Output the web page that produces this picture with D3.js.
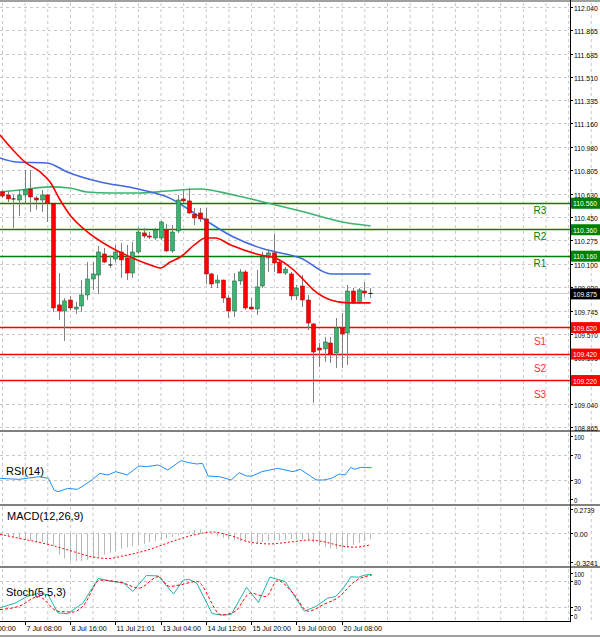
<!DOCTYPE html>
<html>
<head>
<meta charset="utf-8">
<script src="https://cdn.jsdelivr.net/npm/d3@7"></script>
<style>
  body { margin: 0; background: #fff; }
  text { font-family: "Liberation Sans", Arial, sans-serif; }
</style>
</head>
<body>
<svg id="chart" width="600" height="638"></svg>
<script>
// 4h candles, 66 bars
var opens  = [110.642,110.619,110.589,110.581,110.619,110.664,110.596,110.581,110.619,110.551,109.788,109.742,109.825,109.757,109.780,109.863,109.984,110.014,110.173,110.090,110.135,110.188,110.143,110.029,110.188,110.332,110.309,110.294,110.294,110.354,110.196,110.347,110.589,110.574,110.475,110.483,110.438,110.022,109.954,109.976,109.840,109.742,109.969,110.037,109.772,109.757,109.931,110.143,110.181,110.112,110.029,110.022,109.856,109.931,109.825,109.644,109.462,109.455,109.500,109.425,109.614,109.576,109.893,109.803,109.893,109.871];
var highs  = [110.657,110.649,110.619,110.657,110.808,110.808,110.611,110.657,110.627,110.551,110.029,109.840,109.856,109.810,109.976,110.112,110.112,110.233,110.218,110.165,110.241,110.256,110.241,110.264,110.377,110.370,110.339,110.370,110.423,110.400,110.392,110.619,110.657,110.672,110.521,110.521,110.521,110.029,110.014,109.979,109.863,110.029,110.059,110.052,109.840,110.052,110.188,110.211,110.324,110.135,110.075,110.037,109.939,110.014,109.863,109.651,109.500,109.546,109.546,109.689,109.727,109.939,109.916,109.916,109.961,109.916];
var lows   = [110.596,110.566,110.370,110.460,110.559,110.491,110.506,110.491,110.415,109.735,109.674,109.515,109.750,109.719,109.735,109.825,109.901,109.871,110.105,110.067,110.112,109.992,109.976,109.992,110.173,110.294,110.286,110.279,110.279,110.188,110.181,110.332,110.559,110.475,110.392,110.415,109.946,109.916,109.916,109.803,109.689,109.697,109.939,109.750,109.750,109.712,109.916,110.037,110.037,110.029,110.014,109.825,109.825,109.772,109.598,109.047,109.319,109.357,109.349,109.311,109.311,109.334,109.795,109.795,109.848,109.840];
var closes = [110.611,110.589,110.585,110.619,110.657,110.604,110.581,110.619,110.559,109.765,109.742,109.818,109.765,109.772,109.863,109.984,110.022,110.188,110.112,110.085,110.188,110.128,110.029,110.188,110.339,110.309,110.301,110.354,110.415,110.196,110.339,110.581,110.574,110.483,110.445,110.438,110.022,109.946,109.976,109.840,109.742,109.969,110.037,109.765,109.757,109.924,110.150,110.181,110.105,110.029,110.059,109.856,109.916,109.825,109.651,109.432,109.447,109.508,109.417,109.614,109.568,109.893,109.803,109.901,109.878,109.875];

// moving averages: [bar index, price]
var maRed   = [[-0.35,111.073],[1.95,110.959],[4.07,110.868],[6.73,110.793],[8.5,110.717],[10.27,110.581],[12,110.468],[14.7,110.354],[19.1,110.226],[22.65,110.150],[26.2,110.090],[27.96,110.067],[29.7,110.112],[31.5,110.150],[34.2,110.249],[35.9,110.294],[37.7,110.294],[40.4,110.241],[45.7,110.165],[48.3,110.143],[51.5,110.052],[53.3,109.976],[55,109.901],[58.05,109.825],[61.1,109.803],[65.1,109.803]];
var maBlue  = [[-0.35,110.899],[2.65,110.868],[7.96,110.861],[11.5,110.793],[17.35,110.717],[23.2,110.672],[26.2,110.642],[29.2,110.604],[35,110.453],[40.9,110.301],[46.9,110.203],[49.2,110.181],[52.7,110.143],[58.05,110.022],[65.1,110.022]];
var maGreen = [[-0.35,110.642],[3.2,110.657],[8.5,110.680],[12,110.672],[15,110.642],[19.1,110.634],[24.4,110.634],[29.2,110.649],[35,110.664],[40.9,110.619],[46.9,110.559],[52.7,110.498],[61.1,110.407],[65.1,110.385]];

// pivot levels
var levelNames  = ["R3","R2","R1","S1","S2","S3"];
var levelValues = [110.560,110.360,110.160,109.620,109.420,109.220];
var lastPrice = 109.875;

var priceTicks = [112.040,111.865,111.685,111.510,111.335,111.160,110.980,110.805,110.630,110.450,110.275,110.100,109.920,109.745,109.570,109.395,109.040,108.865];

var rsi = [[-0.35,32.8],[3,31.2],[6.5,35.4],[8.2,32.8],[9.2,14.3],[9.9,11.6],[11.6,16.9],[13.3,15.3],[14.6,22.2],[16,31.2],[17.3,40.7],[18.7,38.1],[20.1,43.4],[22.1,38.1],[24.2,52.4],[25.5,51.3],[27.6,54],[29.3,46],[31.6,60.8],[33,57.7],[34.4,55.6],[35.4,56.6],[36.4,36.5],[38.4,35.4],[40.5,30.2],[41.9,41.8],[43.2,36.5],[44.2,36.5],[45.9,43.4],[48.7,48.7],[51.4,43.4],[52.7,47.1],[55.5,30.2],[56.8,30.2],[58.2,32.8],[59.6,39.7],[60.6,38.1],[61.6,50.2],[62.3,47.1],[63.3,50.2],[65.3,49.7]];

var macdHist = [-0.030,-0.036,-0.051,-0.066,-0.073,-0.084,-0.095,-0.102,-0.117,-0.139,-0.241,-0.285,-0.307,-0.314,-0.314,-0.299,-0.285,-0.266,-0.241,-0.219,-0.197,-0.175,-0.161,-0.146,-0.131,-0.120,-0.102,-0.088,-0.073,-0.058,-0.041,-0.022,0.002,0.022,0.036,0.044,0.014,-0.014,-0.036,-0.051,-0.066,-0.080,-0.088,-0.095,-0.102,-0.110,-0.102,-0.088,-0.080,-0.080,-0.077,-0.066,-0.066,-0.069,-0.080,-0.102,-0.131,-0.153,-0.168,-0.175,-0.175,-0.161,-0.131,-0.110,-0.088,-0.066];
var macdSignal = [[-0.35,-0.011],[3.7,-0.066],[7.8,-0.120],[11.9,-0.193],[16,-0.266],[18.7,-0.285],[21.4,-0.255],[25.5,-0.193],[29.6,-0.102],[33.7,-0.022],[37.1,0.014],[40.5,-0.029],[43.9,-0.102],[47.3,-0.120],[51.4,-0.095],[54.1,-0.077],[56.8,-0.095],[59.6,-0.139],[62.3,-0.157],[65,-0.131]];

var stochMain = [[-0.35,17],[2.37,28.6],[4.4,44],[6.45,52],[8.15,48],[9.86,5],[11.6,3],[14.3,28.6],[17,87],[19.4,80],[21.4,77],[23.1,56],[25.5,94],[27.6,93],[30.3,50],[32,83],[33,85],[34.4,76],[37.1,3.5],[38.8,0],[40.5,1],[43.2,66],[45.3,30],[47.3,90],[50,80],[53.4,9],[55.5,21],[57.5,40],[58.9,44],[60.2,62],[61.6,91],[63,90],[64,95],[65.3,97]];
var stochSignal = [[-0.35,13],[3.05,21],[6.45,44],[9.86,9],[12.6,7],[14.3,21],[17.3,83],[21.4,76],[24.2,64],[27.6,91],[29.6,68],[31.6,72],[34.4,80],[38.8,0],[41.2,9],[43.9,52],[46.6,44],[48.7,82],[51.4,52],[54.1,9],[56.8,25],[59.6,44],[62.3,80],[65.3,95]];

var timeLabels = ["6 Jul 00:00","7 Jul 08:00","8 Jul 16:00","11 Jul 21:01","13 Jul 04:00","14 Jul 12:00","15 Jul 20:00","19 Jul 00:00","20 Jul 08:00"];
var timeIdx    = [-4,4,12,20,28,36,44,52,60];

var svg = d3.select("#chart");
var W = 570;   // right edge of plot area
var x = d3.scaleLinear().domain([0, 65]).range([2, 370]);
var y = d3.scaleLinear().domain([108.865, 112.040]).range([427, 7]);
var yRsi = d3.scaleLinear().domain([0, 100]).range([499, 436]);
var yMacd = d3.scaleLinear().domain([-0.3241, 0.2739]).range([562, 509]);
var yStoch = d3.scaleLinear().domain([0, 100]).range([615, 573]);

var gridColor = "#c8c8c8";
var panels = [[3, 430], [433, 503], [507, 565], [569, 620]];

// small narrow text, squeezed to a fixed width like the terminal font
function smallText(xx, yy, s, w, fill) {
    return svg.append("text").attr("x", xx).attr("y", yy).attr("font-size", 8)
        .attr("textLength", w).attr("lengthAdjust", "spacingAndGlyphs")
        .attr("fill", fill || "#000").text(s);
}

// vertical grid in every panel
var vIdx = d3.range(0, 140, 4);
panels.forEach(function (p) {
    svg.selectAll(null).data(vIdx).enter().append("line")
        .attr("x1", function (d) { return x(d) + 0.5; })
        .attr("x2", function (d) { return x(d) + 0.5; })
        .attr("y1", p[0]).attr("y2", p[1])
        .attr("stroke", gridColor).attr("stroke-dasharray", "3,3");
});

// horizontal price grid
svg.selectAll(null).data(priceTicks).enter().append("line")
    .attr("x1", 0).attr("x2", W)
    .attr("y1", function (d) { return Math.round(y(d)) + 0.5; })
    .attr("y2", function (d) { return Math.round(y(d)) + 0.5; })
    .attr("stroke", gridColor).attr("stroke-dasharray", "3,3");

// last price line
svg.append("line").attr("x1", 0).attr("x2", W)
    .attr("y1", Math.round(y(lastPrice)) + 0.5).attr("y2", Math.round(y(lastPrice)) + 0.5)
    .attr("stroke", "#d0d0d0");

// sub-panel level grids
function hgrid(scale, vals) {
    svg.selectAll(null).data(vals).enter().append("line")
        .attr("x1", 0).attr("x2", W)
        .attr("y1", function (d) { return Math.round(scale(d)) + 0.5; })
        .attr("y2", function (d) { return Math.round(scale(d)) + 0.5; })
        .attr("stroke", gridColor).attr("stroke-dasharray", "3,3");
}
hgrid(yRsi, [70, 30]);
hgrid(yMacd, [0]);
hgrid(yStoch, [80, 20]);

// pivot level lines
levelValues.forEach(function (v, i) {
    var c = i < 3 ? "#008000" : "#ff0000";
    svg.append("line").attr("x1", 0).attr("x2", W)
        .attr("y1", Math.round(y(v)) + 0.5).attr("y2", Math.round(y(v)) + 0.5)
        .attr("stroke", c).attr("stroke-width", 1.6);
    svg.append("text").attr("x", 540)
        .attr("y", y(v) + (i < 3 ? 11 : 18))
        .attr("text-anchor", "middle").attr("font-size", 10)
        .attr("fill", i < 3 ? "#008000" : "#ff3030")
        .text(levelNames[i]);
});

// moving averages
var line = d3.line().x(function (d) { return x(d[0]); }).y(function (d) { return y(d[1]); }).curve(d3.curveMonotoneX);
svg.append("path").attr("d", line(maGreen)).attr("fill", "none").attr("stroke", "#3cb371").attr("stroke-width", 1.6);
svg.append("path").attr("d", line(maBlue)).attr("fill", "none").attr("stroke", "#4169e1").attr("stroke-width", 1.6);

// candles
var candles = svg.append("g");
opens.forEach(function (o, i) {
    var c = closes[i], cx = Math.round(x(i)) + 0.5;
    candles.append("line").attr("x1", cx).attr("x2", cx)
        .attr("y1", y(highs[i])).attr("y2", y(lows[i]))
        .attr("stroke", "#808080");
    var top = y(Math.max(o, c)), bot = y(Math.min(o, c));
    if (bot - top < 1) {
        candles.append("line").attr("x1", cx - 2).attr("x2", cx + 2)
            .attr("y1", top).attr("y2", top).attr("stroke", "#000");
    } else {
        candles.append("rect").attr("x", cx - 2).attr("y", top)
            .attr("width", 4).attr("height", bot - top)
            .attr("fill", c >= o ? "#3cb371" : "#ff0000")
            .attr("stroke", c >= o ? "#1e5c3a" : "#a00000").attr("stroke-width", 0.5);
    }
});

svg.append("path").attr("d", line(maRed)).attr("fill", "none").attr("stroke", "#ff0000").attr("stroke-width", 1.6);

// RSI
svg.append("path")
    .attr("d", d3.line().x(function (d) { return x(d[0]); }).y(function (d) { return yRsi(d[1]); })(rsi))
    .attr("fill", "none").attr("stroke", "#1e90ff");

// MACD
svg.selectAll(null).data(macdHist).enter().append("line")
    .attr("x1", function (d, i) { return Math.round(x(i)) + 0.5; })
    .attr("x2", function (d, i) { return Math.round(x(i)) + 0.5; })
    .attr("y1", yMacd(0)).attr("y2", function (d) { return yMacd(d); })
    .attr("stroke", "#b8b8b8");
svg.append("path")
    .attr("d", d3.line().x(function (d) { return x(d[0]); }).y(function (d) { return yMacd(d[1]); }).curve(d3.curveMonotoneX)(macdSignal))
    .attr("fill", "none").attr("stroke", "#ff0000").attr("stroke-dasharray", "2,2");

// Stochastic
svg.append("path")
    .attr("d", d3.line().x(function (d) { return x(d[0]); }).y(function (d) { return yStoch(d[1]); })(stochMain))
    .attr("fill", "none").attr("stroke", "#20b2aa");
svg.append("path")
    .attr("d", d3.line().x(function (d) { return x(d[0]); }).y(function (d) { return yStoch(d[1]); }).curve(d3.curveMonotoneX)(stochSignal))
    .attr("fill", "none").attr("stroke", "#ff0000").attr("stroke-dasharray", "3,2");

// panel titles
svg.append("text").attr("x", 6).attr("y", 475).attr("font-size", 11).text("RSI(14)");
svg.append("text").attr("x", 7).attr("y", 520).attr("font-size", 11).text("MACD(12,26,9)");
svg.append("text").attr("x", 6).attr("y", 596).attr("font-size", 11).text("Stoch(5,5,3)");

// panel borders
[[1, "#a0a0a0"], [431, "#808080"], [505, "#808080"], [567, "#808080"]].forEach(function (b) {
    svg.append("line").attr("x1", 0).attr("x2", 600).attr("y1", b[0]).attr("y2", b[0])
        .attr("stroke", b[1]).attr("stroke-width", 2);
});
svg.append("line").attr("x1", 0).attr("x2", 600).attr("y1", 636).attr("y2", 636).attr("stroke", "#a0a0a0").attr("stroke-width", 2);
svg.append("line").attr("x1", W + 0.5).attr("x2", W + 0.5).attr("y1", 0).attr("y2", 622).attr("stroke", "#000");
svg.append("line").attr("x1", 0).attr("x2", W).attr("y1", 621.5).attr("y2", 621.5).attr("stroke", "#000");

// right axis labels
function axisLabels(scale, vals, fmt) {
    vals.forEach(function (v) {
        var yy = Math.round(scale(v)) + 0.5, s = fmt(v);
        svg.append("line").attr("x1", W).attr("x2", W + 3).attr("y1", yy).attr("y2", yy).attr("stroke", "#000");
        smallText(574, yy + 3, s, s.length * 3.4);
    });
}
axisLabels(y, priceTicks, d3.format(".3f"));
axisLabels(yRsi, [100, 70, 30, 0], String);
axisLabels(yMacd, [0.2739, 0, -0.3241], function (v) { return v === 0 ? "0.00" : String(v); });
axisLabels(yStoch, [100, 80, 20, 0], String);

// level value boxes
function box(v, fill) {
    var yy = y(v);
    svg.append("rect").attr("x", 571).attr("y", yy - 5).attr("width", 29).attr("height", 11).attr("fill", fill);
    smallText(573, yy + 3.5, d3.format(".3f")(v), 24, "#fff");
}
levelValues.forEach(function (v, i) { box(v, i < 3 ? "#008000" : "#ff0000"); });
box(lastPrice, "#000");

// time axis
timeIdx.forEach(function (t, i) {
    var xx = Math.round(x(t)) + 0.5;
    svg.append("line").attr("x1", xx).attr("x2", xx).attr("y1", 622).attr("y2", 625).attr("stroke", "#000");
    smallText(xx + 1, 631, timeLabels[i], timeLabels[i].length * 3.2);
});
</script>
</body>
</html>
